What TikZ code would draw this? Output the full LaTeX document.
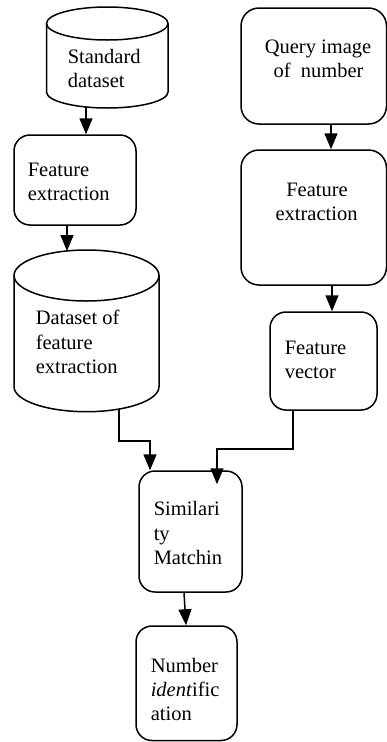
\documentclass[tikz,border=0pt]{standalone}
\usepackage{fontspec}
\setmainfont{Liberation Serif}
\usetikzlibrary{arrows.meta}
\begin{document}
\begin{tikzpicture}[x=1pt,y=-1pt,
  line width=1.5pt,
  rbox/.style={draw, rounded corners=16pt, inner sep=0pt},
  area/.style={inner sep=0pt, outer sep=0pt},
  txt/.style={anchor=base west, inner sep=0pt, font=\fontsize{20.5}{24}\selectfont},
  ctxt/.style={anchor=base, inner sep=0pt, font=\fontsize{20.5}{24}\selectfont},
  arr/.style={-{Triangle[length=16pt,width=13pt]}},
]
\useasboundingbox (0,0) rectangle (387,742);

% --- cylinder 1: Standard dataset
\node[area, minimum width=121.5pt, minimum height=101pt] (sd) at (107.25,57.5) {};
\draw (46.5,23.5) -- (46.5,92) arc[start angle=180,end angle=360,x radius=60.75pt,y radius=16pt] -- (168,23.5);
\draw (107.25,23.5) ellipse[x radius=60.75pt, y radius=16.5pt];
\node[txt] (sdt1) at (67,63) {Standard};
\begin{scope}
  \clip (0,0) rectangle (387,87.5);
  \node[txt] (sdt2) at (67,87) {dataset};
\end{scope}

% --- left feature extraction
\node[rbox, minimum width=122pt, minimum height=90pt] (fe1) at (75,180) {};
\node[txt] (fe1t1) at (27,176) {Feature};
\node[txt] (fe1t2) at (27,200) {extraction};

% --- cylinder 2: Dataset of feature extraction
\node[area, minimum width=145pt, minimum height=162pt] (dfe) at (86.5,331) {};
\draw (14,275.5) -- (14,386.7) arc[start angle=180,end angle=360,x radius=72.5pt,y radius=25pt] -- (159,275.5);
\draw (86.5,275.5) ellipse[x radius=72.5pt, y radius=25.5pt];
\node[txt] (dfet1) at (35,324) {Dataset of};
\node[txt] (dfet2) at (35,349) {feature};
\node[txt] (dfet3) at (35,373) {extraction};

% --- query image
\node[rbox, rounded corners=18pt, minimum width=145.5pt, minimum height=116pt] (q) at (313.75,66) {};
\node[ctxt] (qt1) at (318,53) {Query image};
\node[ctxt] (qt2) at (318.5,77) {of\ \ number};

% --- right feature extraction
\node[rbox, rounded corners=18pt, minimum width=145.5pt, minimum height=135pt] (fe2) at (313.75,217.5) {};
\node[ctxt] (fe2t1) at (317,196) {Feature};
\node[ctxt] (fe2t2) at (316.5,220) {extraction};

% --- feature vector
\node[rbox, minimum width=107pt, minimum height=98pt] (fv) at (323.5,361) {};
\node[txt] (fvt1) at (284,354) {Feature};
\node[txt] (fvt2) at (284,378) {vector};

% --- similarity matching
\node[rbox, minimum width=103pt, minimum height=121pt] (sim) at (190.5,531.5) {};
\node[txt] (simt1) at (153,515) {Similari};
\node[txt] (simt2) at (153,540) {ty};
\node[txt] (simt3) at (153,564) {Matchin};

% --- number identification
\node[rbox, minimum width=101pt, minimum height=114.5pt] (num) at (186.5,683.25) {};
\node[txt] (numt1) at (150,672) {Number};
\node[txt] (numt2) at (150,696) {\textit{ident}ific};
\node[txt] (numt3) at (150,720) {ation};

% --- connectors
\draw[arr] ([xshift=-21.25pt,yshift=1pt]sd.south) -- ([xshift=-21.25pt]sd.south |- fe1.north);
\draw[arr] ([xshift=-8pt]fe1.south) -- ([xshift=-19.5pt,yshift=-1pt]dfe.north);
\draw[arr] ([xshift=32.5pt,yshift=3pt]dfe.south) -- ++(0,32) -| ([xshift=-40.5pt]sim.north);
\draw[arr] ([xshift=17.25pt]q.south) -- ([xshift=17.25pt]q.south |- fe2.north);
\draw[arr] ([xshift=18.25pt]fe2.south) -- ([xshift=18.25pt]fe2.south |- fv.north);
\draw[arr] ([xshift=-30.5pt]fv.south) -- ++(0,38) -| ([xshift=26.5pt,yshift=-14pt]sim.north);
\draw[arr] ([xshift=-6.5pt]sim.south) -- ([xshift=-0.5pt]num.north);
\end{tikzpicture}
\end{document}
